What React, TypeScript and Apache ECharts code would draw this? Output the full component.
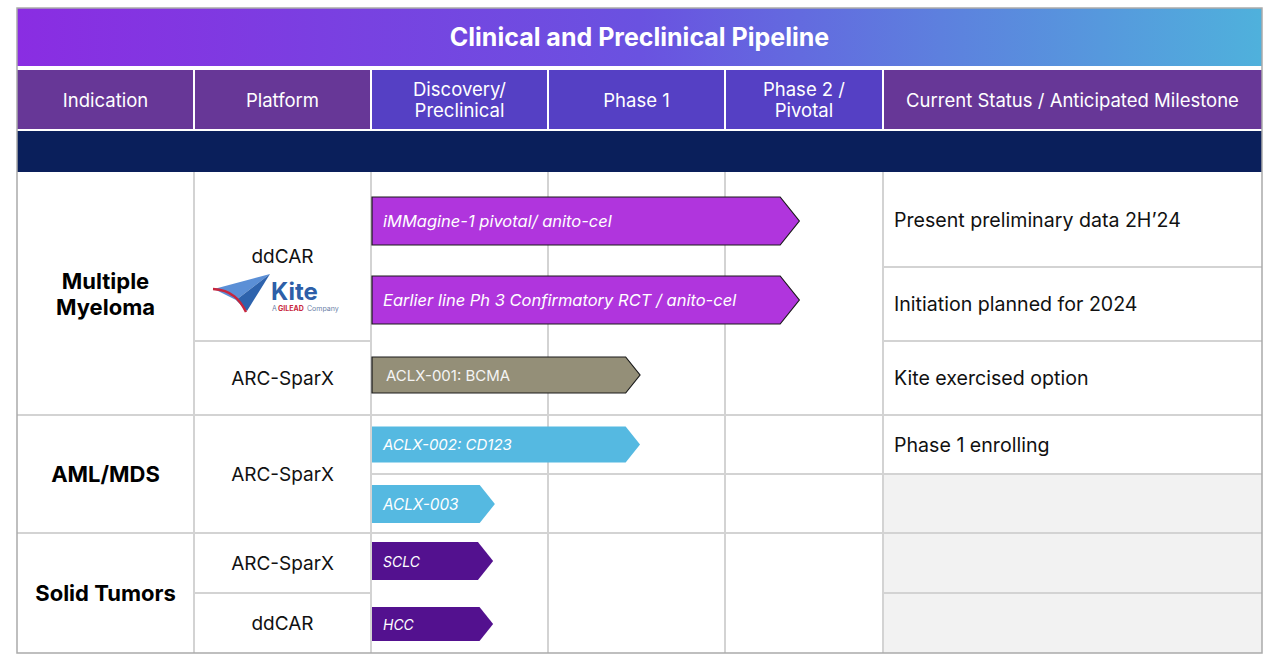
import React, { useEffect, useRef } from "react";
import * as echarts from "echarts";

// ---------- data ----------
const title = "Clinical and Preclinical Pipeline";
const headerLabels = ["Indication", "Platform", "Discovery/\nPreclinical", "Phase 1", "Phase 2 /\nPivotal", "Current Status / Anticipated Milestone"];
const indications = ["Multiple\nMyeloma", "AML/MDS", "Solid Tumors"];
const indicationRowSpans = [[0, 2], [3, 4], [5, 6]];
const platforms = ["ddCAR", "ARC-SparX", "ARC-SparX", "ARC-SparX", "ddCAR"];
const platformRowSpans = [[0, 1], [2, 2], [3, 4], [5, 5], [6, 6]];
const programNames = [
  "iMMagine-1 pivotal/ anito-cel",
  "Earlier line Ph 3 Confirmatory RCT / anito-cel",
  "ACLX-001: BCMA",
  "ACLX-002: CD123",
  "ACLX-003",
  "SCLC",
  "HCC",
];
// progress along the stages (0 = start of Discovery, 1 = start of Phase 1, 2 = start of Phase 2)
const programProgress = [2.42, 2.42, 1.52, 1.52, 0.7, 0.69, 0.69];
const programRows = [0, 1, 2, 3, 4, 5, 6];
const statuses = [
  "Present preliminary data 2H\u201924",
  "Initiation planned for 2024",
  "Kite exercised option",
  "Phase 1 enrolling",
  "",
  "",
  "",
];

// ---------- styles / layout ----------
const programColors = ["#b035dd", "#b035dd", "#948f78", "#55b9e1", "#55b9e1", "#53118f", "#53118f"];
const programBorder = [true, true, true, false, false, false, false];
const programItalic = [true, true, false, true, true, true, true];
const programFontSize = [16.5, 16.5, 15, 15, 15.3, 14, 14];
const barHeights = [48, 48, 36, 36, 38, 38, 34];
const barOffsets = [1.5, -4, -3, 0, 0.5, -2, 1];
const rowHeights = [95, 74, 74, 59, 59, 60, 60];
const FONT = "Inter, 'Noto Sans', sans-serif";
const L = 17, R = 1262, TOP = 8, BOTTOM = 653;
const colX = [17, 194, 371, 548, 725, 883, 1262];
const bodyTop = 172;
const stageUnit = 177;
const stageMax = (colX[5] - colX[2]) / stageUnit;
const GRID = "#d3d3d3";

const rowEdges: number[] = [0];
rowHeights.forEach((h, i) => rowEdges.push(rowEdges[i] + h));
const rowY = (r: number) => bodyTop + rowEdges[r];

export default function App() {
  const ref = useRef<HTMLDivElement>(null);
  useEffect(() => {
    if (!ref.current) return;
    const chart = echarts.init(ref.current, null, { renderer: "svg" });
    const g: any[] = [];

    // title band
    g.push({
      type: "rect",
      shape: { x: L, y: TOP, width: R - L, height: 58 },
      style: {
        fill: new echarts.graphic.LinearGradient(0, 0, 1, 0, [
          { offset: 0, color: "#8a2de2" },
          { offset: 0.5, color: "#6a52e0" },
          { offset: 1, color: "#4fb1dc" },
        ]),
      },
    });
    g.push({
      type: "text",
      x: (L + R) / 2,
      y: 37,
      style: { text: title, fill: "#ffffff", font: `bold 25px ${FONT}`, align: "center", verticalAlign: "middle" },
    });

    // header row
    const headColors = ["#673797", "#673797", "#5540c4", "#5540c4", "#5540c4", "#673797"];
    headerLabels.forEach((lab, i) => {
      const x0 = colX[i] + (i === 0 ? 0 : 1);
      const x1 = colX[i + 1] - (i === 5 ? 0 : 1);
      g.push({ type: "rect", shape: { x: x0, y: 70, width: x1 - x0, height: 59 }, style: { fill: headColors[i] } });
      g.push({
        type: "text",
        x: (colX[i] + colX[i + 1]) / 2,
        y: 99.5,
        style: { text: lab, fill: "#ffffff", font: `18.5px ${FONT}`, align: "center", verticalAlign: "middle", lineHeight: 21 },
      });
    });
    // navy band
    g.push({ type: "rect", shape: { x: L, y: 131, width: R - L, height: 41 }, style: { fill: "#0a1f5b" } });

    // status gray cells
    statuses.forEach((s, r) => {
      if (!s) {
        g.push({
          type: "rect",
          shape: { x: colX[5], y: rowY(r), width: R - colX[5], height: rowHeights[r] },
          style: { fill: "#f2f2f2" },
        });
      }
    });

    // vertical grid lines
    for (let i = 1; i < 6; i++) {
      g.push({ type: "line", shape: { x1: colX[i], y1: bodyTop, x2: colX[i], y2: BOTTOM }, style: { stroke: GRID, lineWidth: 2 } });
    }
    const hline = (x1: number, x2: number, y: number) =>
      g.push({ type: "line", shape: { x1, y1: y, x2, y2: y }, style: { stroke: GRID, lineWidth: 2 } });
    indicationRowSpans.forEach((sp, k) => {
      if (k > 0) hline(L, R, rowY(sp[0]));
    });
    platformRowSpans.forEach((sp) => {
      if (sp[0] > 0) hline(colX[1], colX[2], rowY(sp[0]));
    });
    for (let r = 1; r < rowHeights.length; r++) hline(colX[5], R, rowY(r));
    hline(colX[2], colX[5], rowY(4));

    // indication texts
    indications.forEach((t, k) => {
      const sp = indicationRowSpans[k];
      const yc = (rowY(sp[0]) + rowY(sp[1] + 1)) / 2;
      g.push({
        type: "text",
        x: (colX[0] + colX[1]) / 2,
        y: yc,
        style: { text: t, fill: "#000", font: `bold 22px ${FONT}`, align: "center", verticalAlign: "middle", lineHeight: 26 },
      });
    });
    // platform texts
    platforms.forEach((t, k) => {
      const sp = platformRowSpans[k];
      const yc = (rowY(sp[0]) + rowY(sp[1] + 1)) / 2;
      g.push({
        type: "text",
        x: (colX[1] + colX[2]) / 2,
        y: yc,
        style: { text: t, fill: "#111", font: `19px ${FONT}`, align: "center", verticalAlign: "middle" },
      });
    });
    // status texts
    statuses.forEach((s, r) => {
      if (!s) return;
      g.push({
        type: "text",
        x: 894,
        y: rowY(r) + rowHeights[r] / 2,
        style: { text: s, fill: "#111", font: `19.6px ${FONT}`, align: "left", verticalAlign: "middle" },
      });
    });

    // Kite logo
    g.push({ type: "polygon", shape: { points: [[214, 289], [270, 274], [236, 300]] }, style: { fill: "#5b8fd6" } });
    g.push({ type: "polygon", shape: { points: [[236, 300], [270, 274], [247, 311]] }, style: { fill: "#2e63ad" } });
    g.push({
      type: "bezierCurve",
      shape: { x1: 213, y1: 289, x2: 246, y2: 312, cpx1: 232, cpy1: 290, cpx2: 240, cpy2: 300 },
      style: { stroke: "#c8263d", lineWidth: 2.5, fill: "none" },
    });
    g.push({ type: "text", x: 271, y: 291, style: { text: "Kite", fill: "#2d5fa8", font: `bold 24px ${FONT}`, verticalAlign: "middle" } });
    g.push({ type: "text", x: 272, y: 308, style: { text: "A ", fill: "#6b7fa8", font: `7px ${FONT}`, verticalAlign: "middle" } });
    g.push({ type: "text", x: 278, y: 308, style: { text: "GILEAD", fill: "#c8263d", font: `bold 7px ${FONT}`, verticalAlign: "middle" } });
    g.push({ type: "text", x: 307, y: 308, style: { text: "Company", fill: "#6b7fa8", font: `7px ${FONT}`, verticalAlign: "middle" } });

    // outer border
    g.push({
      type: "rect",
      shape: { x: L, y: TOP, width: R - L, height: BOTTOM - TOP },
      style: { fill: "none", stroke: "#aaaaaa", lineWidth: 1.5 },
      z: 200,
    });

    const option: any = {
      animation: false,
      grid: { left: colX[2], right: 1280 - colX[5], top: bodyTop, bottom: 669 - BOTTOM },
      xAxis: { type: "value", min: 0, max: stageMax, show: false },
      yAxis: { type: "value", min: 0, max: rowEdges[rowEdges.length - 1], inverse: true, show: false },
      graphic: g,
      series: [
        {
          type: "custom",
          z: 10,
          data: programProgress.map((p, i) => [p, programRows[i]]),
          renderItem: (params: any, api: any) => {
            const i = params.dataIndex;
            const v = api.value(0);
            const r = api.value(1);
            const yc = rowEdges[r] + rowHeights[r] / 2 + barOffsets[i];
            const p0 = api.coord([0, yc]);
            const p1 = api.coord([v, yc]);
            const h = barHeights[i];
            const d = h * 0.4;
            const x0 = p0[0] + 1;
            const x1 = p1[0];
            const y = p0[1];
            const pts = [
              [x0, y - h / 2],
              [x1 - d, y - h / 2],
              [x1, y],
              [x1 - d, y + h / 2],
              [x0, y + h / 2],
            ];
            return {
              type: "group",
              children: [
                {
                  type: "polygon",
                  shape: { points: pts },
                  style: {
                    fill: programColors[i],
                    stroke: programBorder[i] ? "#1a1a1a" : "none",
                    lineWidth: programBorder[i] ? 1.2 : 0,
                  },
                },
                {
                  type: "text",
                  x: x0 + (programItalic[i] ? 11 : 14),
                  y: y,
                  style: {
                    text: programNames[i],
                    fill: programItalic[i] ? "#ffffff" : "#f4f4f4",
                    font: `${programItalic[i] ? "italic " : ""}${programFontSize[i]}px ${FONT}`,
                    verticalAlign: "middle",
                    align: "left",
                  },
                },
              ],
            };
          },
        },
      ],
    };
    chart.setOption(option);
    return () => chart.dispose();
  }, []);
  return <div ref={ref} style={{ position: "fixed", left: 0, top: 0, width: 1280, height: 669, background: "#fff" }} />;
}
